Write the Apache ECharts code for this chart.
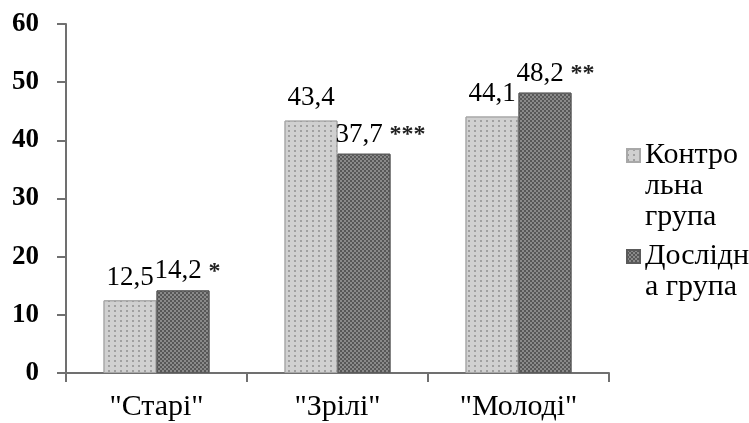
<!DOCTYPE html>
<html>
<head>
<meta charset="utf-8">
<script src="https://cdn.jsdelivr.net/npm/echarts@6/dist/echarts.min.js"></script>
<style>
  html, body { margin: 0; padding: 0; background: #fff; }
  #chart { width: 749px; height: 423px; }
</style>
</head>
<body>
<div id="chart"></div>
<script>
// Age groups and group means
const categories = ['"Старі"', '"Зрілі"', '"Молоді"'];
const controlValues = [12.5, 43.4, 44.1];
const experimentalValues = [14.2, 37.7, 48.2];
const significance = ['*', '***', '**'];
const seriesNames = ['Контрольна група', 'Дослідна група'];
// Legend captions wrapped the way they fit beside the plot;
// leading blank lines keep the swatch level with the first line
const legendLabels = ['\n\nКонтро\nльна\nгрупа', '\nДослідн\nа група'];
const yTicks = [0, 10, 20, 30, 40, 50, 60];

const serif = 'Liberation Serif, Times New Roman, serif';
const fmt = v => String(v).replace('.', ',');

const chart = echarts.init(document.getElementById('chart'), null, { renderer: 'canvas' });

const legendBase = {
  orient: 'vertical',
  left: 626,
  padding: 0,
  itemWidth: 13,
  itemHeight: 13,
  itemGap: 0,
  icon: 'rect',
  textStyle: { fontFamily: serif, fontSize: 30, color: '#000', lineHeight: 31 },
  formatter: name => legendLabels[seriesNames.indexOf(name)]
};

chart.setOption({
  animation: false,
  backgroundColor: '#ffffff',
  grid: { left: 66, right: 140, top: 24, bottom: 50, containLabel: false },
  legend: [
    Object.assign({}, legendBase, { top: 78, data: [seriesNames[0]] }),
    Object.assign({}, legendBase, { top: 210, data: [seriesNames[1]] })
  ],
  xAxis: {
    type: 'category',
    data: categories,
    axisLine: { lineStyle: { color: '#707070', width: 2 } },
    axisTick: { show: true, length: 9, lineStyle: { color: '#707070', width: 2 } },
    axisLabel: { fontFamily: serif, fontSize: 30, color: '#000', margin: 19 }
  },
  yAxis: {
    type: 'value',
    min: 0,
    max: 60,
    interval: 10,
    splitLine: { show: false },
    axisLine: { show: true, lineStyle: { color: '#707070', width: 2 } },
    axisTick: { show: true, length: 9, lineStyle: { color: '#707070', width: 2 } },
    axisLabel: {
      fontFamily: serif, fontSize: 27, fontWeight: 'bold', color: '#000', margin: 27,
      formatter: v => yTicks.includes(v) ? String(v) : ''
    }
  },
  series: [
    {
      name: seriesNames[0],
      type: 'bar',
      data: controlValues,
      barWidth: 53,
      barGap: '0%',
      itemStyle: {
        color: '#d0d0d0',
        borderColor: '#a8a8a8',
        borderWidth: 1,
        decal: {
          symbol: 'rect',
          symbolSize: 1,
          color: 'rgba(120,120,120,0.55)',
          dashArrayX: [2, 4],
          dashArrayY: [2, 3],
          rotation: 0
        }
      },
      label: {
        show: true,
        position: 'top',
        distance: 9,
        fontFamily: serif,
        fontSize: 27,
        color: '#000',
        formatter: p => fmt(p.value)
      }
    },
    {
      name: seriesNames[1],
      type: 'bar',
      data: experimentalValues,
      barWidth: 53,
      itemStyle: {
        color: '#8a8a8a',
        borderColor: '#5a5a5a',
        borderWidth: 1,
        decal: {
          symbol: 'rect',
          symbolSize: 1,
          color: 'rgba(70,70,70,0.75)',
          dashArrayX: [[2, 2], [0, 2, 2, 0]],
          dashArrayY: [2, 0],
          rotation: 0
        }
      },
      label: {
        show: true,
        position: [-2, -19],
        align: 'left',
        verticalAlign: 'middle',
        fontFamily: serif,
        fontSize: 27,
        color: '#000',
        formatter: p => '{v|' + fmt(p.value) + '} {s|' + significance[p.dataIndex] + '}',
        rich: {
          v: { fontFamily: serif, fontSize: 27, color: '#000' },
          s: { fontFamily: serif, fontSize: 24, fontWeight: 'bold', color: '#222' }
        }
      }
    }
  ]
});
</script>
</body>
</html>
